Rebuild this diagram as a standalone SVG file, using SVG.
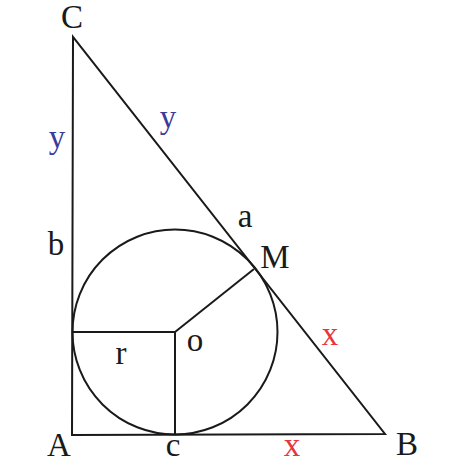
<svg xmlns="http://www.w3.org/2000/svg" width="463" height="463" viewBox="0 0 463 463">
<style>
.ln{stroke:#1a1a1a;stroke-width:2;fill:none}
.t{font-family:"Liberation Serif","Times New Roman",serif;font-size:33px;fill:#1a1a1a;text-anchor:middle}
.blue{fill:#3b3b9c}
.red{fill:#e8353a}
</style>
<rect width="463" height="463" fill="#fff"/>
<g id="connectors">
<polygon class="ln" points="73,37 72,435 385,434"/>
<polyline class="ln" points="72,332 175,332 175,435"/>
<line class="ln" x1="175" y1="332" x2="254" y2="269"/>
</g>
<g id="circle"><circle class="ln" cx="175" cy="332" r="102.5"/></g>
<g id="labels">
<text class="t" x="72" y="28">C</text>
<text class="t blue" x="57" y="148">y</text>
<text class="t blue" x="168" y="128">y</text>
<text class="t" x="56" y="255">b</text>
<text class="t" x="245" y="227">a</text>
<text class="t" x="275" y="268">M</text>
<text class="t" x="195" y="351">o</text>
<text class="t" x="121" y="364">r</text>
<text class="t red" x="330" y="345">x</text>
<text class="t" x="59" y="456">A</text>
<text class="t" x="173" y="456">c</text>
<text class="t red" x="292" y="456">x</text>
<text class="t" x="407" y="455">B</text>
</g>
</svg>
